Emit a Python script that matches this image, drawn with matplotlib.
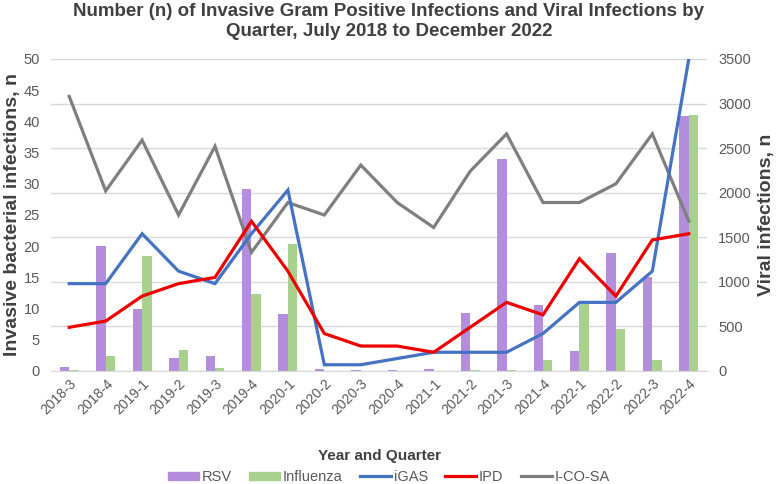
import matplotlib
matplotlib.use("Agg")
import matplotlib.pyplot as plt
import numpy as np
from matplotlib.patches import Patch
from matplotlib.lines import Line2D

plt.rcParams['font.family'] = ['Liberation Sans', 'DejaVu Sans']

quarters = ["2018-3", "2018-4", "2019-1", "2019-2", "2019-3", "2019-4",
            "2020-1", "2020-2", "2020-3", "2020-4", "2021-1", "2021-2",
            "2021-3", "2021-4", "2022-1", "2022-2", "2022-3", "2022-4"]

rsv = [41, 1402, 700, 146, 168, 2038, 636, 20, 10, 10, 25, 654,
       2375, 740, 224, 1327, 1058, 2861]
influenza = [10, 168, 1290, 239, 37, 867, 1425, 5, 5, 5, 5, 10,
             8, 123, 747, 474, 123, 2868]
icosa = [3080, 2020, 2590, 1750, 2520, 1330, 1890, 1750, 2310, 1890, 1610, 2240,
         2660, 1890, 1890, 2100, 2660, 1680]
igas = [14, 14, 22, 16, 14, 22, 29, 1, 1, 2, 3, 3, 3, 6, 11, 11, 16, 50]
ipd = [7, 8, 12, 14, 15, 24, 16, 6, 4, 4, 3, 7, 11, 9, 18, 12, 21, 22]

C_RSV = "#B48EDC"
C_FLU = "#A9D18E"
C_IGAS = "#4472C4"
C_IPD = "#EE0000"
C_ICOSA = "#7F7F7F"
TXT = "#595959"
DARK = "#404040"

fig = plt.figure(figsize=(7.77, 4.84), dpi=100)
ax = fig.add_axes([51/777, 1-371/484, (707-51)/777, (371-59)/484])
ax2 = ax.twinx()

x = np.arange(len(quarters))
w = 0.26
ax2.bar(x - w/2, rsv, width=w, color=C_RSV, zorder=2)
ax2.bar(x + w/2, influenza, width=w, color=C_FLU, zorder=2)
ax2.plot(x, icosa, color=C_ICOSA, lw=2.3, zorder=3, solid_joinstyle='miter')
ax2.set_ylim(0, 3500)
ax2.set_yticks(np.arange(0, 3501, 500))

ax.set_zorder(ax2.get_zorder() + 1)
ax.patch.set_visible(False)
ax.plot(x, igas, color=C_IGAS, lw=2.3, zorder=3, solid_joinstyle='miter')
ax.plot(x, ipd, color=C_IPD, lw=2.3, zorder=3, solid_joinstyle='miter')
ax.set_ylim(0, 50)
ax.set_yticks(np.arange(0, 51, 5))
ax.set_xlim(-0.5, len(quarters) - 0.5)
ax.set_xticks(x)
ax.set_xticklabels(quarters, rotation=45, ha='right', rotation_mode='anchor',
                   fontsize=10, color=TXT)

ax2.yaxis.grid(True, color="#D9D9D9", lw=1)
ax2.set_axisbelow(True)

for a in (ax, ax2):
    for s in ('top', 'left', 'right'):
        a.spines[s].set_visible(False)
    a.spines['bottom'].set_color("#D9D9D9")
    a.tick_params(axis='y', length=0, labelsize=10.5, labelcolor=TXT, pad=8)
ax.tick_params(axis='x', length=0, pad=4)

ax.set_ylabel("Invasive bacterial infections, n", fontsize=14, fontweight='bold',
              color=DARK)
ax.yaxis.set_label_coords((21 - 51) / 656, 0.5)
ax2.set_ylabel("Viral infections, n", fontsize=14, fontweight='bold', color=DARK)
ax2.yaxis.set_label_coords((758 - 51) / 656, 0.5)
ax.set_xlabel("Year and Quarter", fontsize=11, fontweight='bold', color=DARK)
ax.xaxis.set_label_coords(0.5, -(449 - 371) / 312)

fig.text(389/777, 1 - 3/484,
         "Number (n) of Invasive Gram Positive Infections and Viral Infections by\n"
         "Quarter, July 2018 to December 2022", fontsize=13.5, fontweight='bold',
         color=DARK, ha='center', va='top', linespacing=1.25)

handles = [Patch(color=C_RSV, label="RSV"), Patch(color=C_FLU, label="Influenza"),
           Line2D([], [], color=C_IGAS, lw=2.3, label="iGAS"),
           Line2D([], [], color=C_IPD, lw=2.3, label="IPD"),
           Line2D([], [], color=C_ICOSA, lw=2.3, label="I-CO-SA")]
leg = fig.legend(handles=handles, loc='center', ncol=5, frameon=False,
                 bbox_to_anchor=(389/777, 1 - 477/484), fontsize=10.5, handlelength=2.1,
                 handleheight=0.5, columnspacing=1.2, handletextpad=0.2)
for t in leg.get_texts():
    t.set_color(TXT)

fig.savefig("out.png", dpi=100)
